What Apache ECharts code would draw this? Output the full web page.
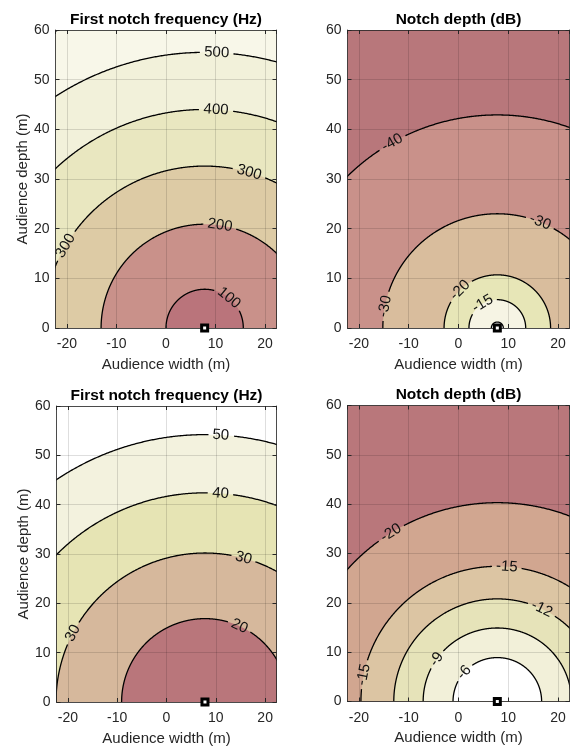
<!DOCTYPE html>
<html>
<head>
<meta charset="utf-8">
<title>Notch contours</title>
<script src="https://cdn.jsdelivr.net/npm/echarts@6/dist/echarts.min.js"></script>
<style>
html, body { margin: 0; padding: 0; background: #fff; }
#chartmain { width: 573px; height: 747px; }
</style>
</head>
<body>
<div id="chartmain"></div>
<script>
// source position (m) - contours are centred on it
var sourceX = 7.8;
var sourceY = 0;

// contour levels and their radius (m), outermost first
var freqLevelsA = [600, 500, 400, 300, 200, 100];
var freqRadiiA = [66.9, 55.5, 44.0, 32.6, 20.9, 7.8];
var depthLevelsA = [-40, -30, -20, -15, -10];
var depthRadiiA = [42.9, 23.0, 10.7, 5.7, 1.2];
var freqLevelsB = [50, 40, 30, 20];
var freqRadiiB = [54.2, 42.4, 30.2, 16.9];
var depthLevelsB = [-20, -15, -12, -9, -6];
var depthRadiiB = [40.3, 27.4, 20.8, 14.9, 8.9];

var xTicks = [-20, -10, 0, 10, 20];
var yTicks = [0, 10, 20, 30, 40, 50, 60];

var font = '"Liberation Sans", Arial, Helvetica, sans-serif';
var axisColor = '#262626';
var labelFont = '15px ' + font;

var panels = [
	{
		title: 'First notch frequency (Hz)', levels: freqLevelsA, radii: freqRadiiA,
		left: 55.5, top: 30, width: 221, height: 298, yName: true,
		outer: '#fbfbf4',
		fills: ['#f8f7e9', '#f2f1da', '#e9e7c0', '#ddcba5', '#c9918a', '#ba747b'],
		labelAngles: [[], [87.5], [87], [74, 149.5], [81.5], [51]]
	},
	{
		title: 'Notch depth (dB)', levels: depthLevelsA, radii: depthRadiiA,
		left: 347.5, top: 30, width: 222, height: 298, yName: false,
		outer: '#b8777b',
		fills: ['#c9918a', '#d9bd9d', '#e7e6b7', '#f6f4e4', '#ffffff'],
		labelAngles: [[119.5], [68, 169], [134.5], [121], []]
	},
	{
		title: 'First notch frequency (Hz)', levels: freqLevelsB, radii: freqRadiiB,
		left: 56.5, top: 406, width: 220, height: 296, yName: true,
		outer: '#ffffff',
		fills: ['#f3f2de', '#e6e4b4', '#d6b89c', '#b9767b'],
		labelAngles: [[86.6], [85.7], [75, 152.5], [65.5]]
	},
	{
		title: 'Notch depth (dB)', levels: depthLevelsB, radii: depthRadiiB,
		left: 347.5, top: 405.5, width: 222, height: 296, yName: false,
		outer: '#b9777b',
		fills: ['#d1a690', '#dcc5a3', '#e6e3b9', '#f2f0d9', '#ffffff'],
		labelAngles: [[122], [86, 168.5], [64.5], [145], [138.5]]
	}
];

var measureCtx = document.createElement('canvas').getContext('2d');
measureCtx.font = labelFont;
function textWidth(t) {
	return measureCtx.measureText(t).width;
}

function arcPoint(api, r, deg) {
	var t = deg * Math.PI / 180;
	return api.coord([sourceX + r * Math.cos(t), sourceY + r * Math.sin(t)]);
}

function fillItem(p) {
	return function(params, api) {
		var r = api.value(0);
		var k = params.dataIndex;
		var pts = [];
		for (var a = 0; a <= 180; a += 0.5) {
			pts.push(arcPoint(api, r, a));
		}
		return {
			type: 'polygon',
			z2: k,
			shape: { points: pts },
			style: { fill: p.fills[k], stroke: null }
		};
	};
}

function lineItem(p) {
	return function(params, api) {
		var r = api.value(0);
		var lvl = api.value(1);
		var k = params.dataIndex;
		var angles = p.labelAngles[k] || [];
		var txt = String(lvl);
		var rPx = Math.abs(api.size([r, 0])[0]);
		var half = (textWidth(txt) / 2 + 4) / rPx * 180 / Math.PI;
		var children = [];
		var seg = [];
		function flush() {
			if (seg.length > 1) {
				children.push({
					type: 'polyline',
					shape: { points: seg },
					style: { stroke: '#000', lineWidth: 1.3, fill: null }
				});
			}
			seg = [];
		}
		for (var a = 0; a <= 180; a += 0.25) {
			var inGap = angles.some(function(c) { return Math.abs(a - c) < half; });
			if (inGap) {
				flush();
				continue;
			}
			seg.push(arcPoint(api, r, a));
		}
		flush();
		angles.forEach(function(c) {
			var pt = arcPoint(api, r, c);
			children.push({
				type: 'text',
				x: pt[0],
				y: pt[1],
				rotation: (c - 90) * Math.PI / 180,
				style: {
					text: txt,
					align: 'center',
					verticalAlign: 'middle',
					textAlign: 'center',
					textVerticalAlign: 'middle',
					font: labelFont,
					fill: '#111'
				}
			});
		});
		return { type: 'group', children: children };
	};
}

var grids = [], xAxes = [], yAxes = [], series = [], titles = [];

panels.forEach(function(p, i) {
	grids.push({
		left: p.left, top: p.top, width: p.width, height: p.height,
		show: true, backgroundColor: p.outer, borderWidth: 0,
		containLabel: false, outerBoundsMode: 'none'
	});
	titles.push({
		text: p.title,
		left: p.left + p.width / 2,
		top: p.top - 18.5,
		textAlign: 'center',
		padding: 0,
		textStyle: { fontSize: 15.5, fontWeight: 'bold', color: '#000', fontFamily: font }
	});
	// bottom and top x axes
	xAxes.push({
		type: 'value', gridIndex: i, position: 'bottom', min: -22.3, max: 22.3, splitNumber: 5, z: 5,
		name: 'Audience width (m)', nameLocation: 'middle', nameGap: 29,
		nameTextStyle: { fontSize: 15, color: axisColor, fontFamily: font },
		axisLine: { show: true, onZero: false, lineStyle: { color: axisColor, width: 0.8 } },
		axisTick: { show: true, inside: true, length: 4, lineStyle: { color: axisColor } },
		axisLabel: {
			margin: 9.5, fontSize: 14, color: axisColor, fontFamily: font,
			showMinLabel: false, showMaxLabel: false,
			formatter: function(v) { return xTicks.indexOf(v) >= 0 ? String(v) : ''; }
		},
		splitLine: { show: true, lineStyle: { color: 'rgba(0,0,0,0.13)', width: 1 } }
	});
	xAxes.push({
		type: 'value', gridIndex: i, position: 'top', min: -22.3, max: 22.3, splitNumber: 5, z: 5,
		axisLine: { show: true, onZero: false, lineStyle: { color: axisColor, width: 0.8 } },
		axisTick: { show: true, inside: true, length: 4, lineStyle: { color: axisColor } },
		axisLabel: { show: false },
		splitLine: { show: false }
	});
	// left and right y axes
	yAxes.push({
		type: 'value', gridIndex: i, position: 'left', min: yTicks[0], max: yTicks[yTicks.length - 1], interval: 10, z: 5,
		name: p.yName ? 'Audience depth (m)' : '', nameLocation: 'middle', nameGap: 25,
		nameTextStyle: { fontSize: 15, color: axisColor, fontFamily: font },
		axisLine: { show: true, onZero: false, lineStyle: { color: axisColor, width: 0.8 } },
		axisTick: { show: true, inside: true, length: 4, lineStyle: { color: axisColor } },
		axisLabel: { margin: 6, fontSize: 14, color: axisColor, fontFamily: font },
		splitLine: { show: true, lineStyle: { color: 'rgba(0,0,0,0.13)', width: 1 } }
	});
	yAxes.push({
		type: 'value', gridIndex: i, position: 'right', min: yTicks[0], max: yTicks[yTicks.length - 1], interval: 10, z: 5,
		axisLine: { show: true, onZero: false, lineStyle: { color: axisColor, width: 0.8 } },
		axisTick: { show: true, inside: true, length: 4, lineStyle: { color: axisColor } },
		axisLabel: { show: false },
		splitLine: { show: false }
	});

	var data = p.radii.map(function(r, k) { return [r, p.levels[k]]; });
	series.push({
		type: 'custom', coordinateSystem: 'cartesian2d',
		xAxisIndex: i * 2, yAxisIndex: i * 2, z: 1, clip: true, silent: true,
		encode: { x: -1, y: -1 },
		renderItem: fillItem(p),
		data: data
	});
	series.push({
		type: 'custom', coordinateSystem: 'cartesian2d',
		xAxisIndex: i * 2, yAxisIndex: i * 2, z: 3, clip: true, silent: true,
		encode: { x: -1, y: -1 },
		renderItem: lineItem(p),
		data: data
	});
	// source marker
	series.push({
		type: 'scatter', xAxisIndex: i * 2, yAxisIndex: i * 2, z: 10, clip: false, silent: true,
		symbol: 'rect', symbolSize: 6,
		itemStyle: { color: '#ffffff', borderColor: '#000', borderWidth: 3, opacity: 1 },
		data: [[sourceX, sourceY]]
	});
});

var option = {
	animation: false,
	backgroundColor: '#ffffff',
	title: titles,
	grid: grids,
	xAxis: xAxes,
	yAxis: yAxes,
	series: series
};

var myChart = echarts.init(document.getElementById('chartmain'), null, { renderer: 'canvas' });
myChart.setOption(option);
</script>
</body>
</html>
